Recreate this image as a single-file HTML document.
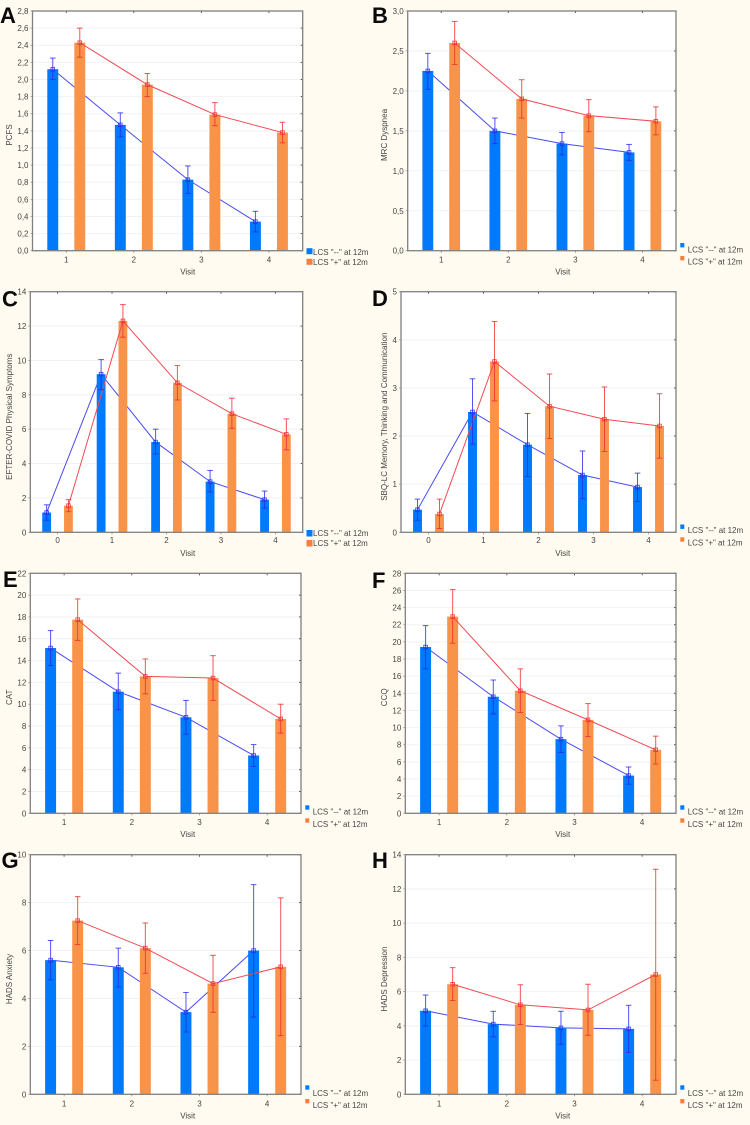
<!DOCTYPE html>
<html lang="en">
<head>
<meta charset="utf-8">
<title>LCS outcome panels</title>
<style>
html,body{margin:0;padding:0;background:#fffbf0;}
body{width:750px;height:1125px;overflow:hidden;}
svg{display:block;filter:blur(0.3px);}
text{font-family:"Liberation Sans",Arial,sans-serif;fill:#454545;}
</style>
</head>
<body>
<svg id="figure" width="750" height="1125" viewBox="0 0 750 1125" xmlns="http://www.w3.org/2000/svg"></svg>
<script>
// ---- Data ----
const visits4 = [1, 2, 3, 4];
const visits5 = [0, 1, 2, 3, 4];

const aTicks = ['0,0','0,2','0,4','0,6','0,8','1,0','1,2','1,4','1,6','1,8','2,0','2,2','2,4','2,6','2,8'];
const aBlueMean = [2.12, 1.47, 0.83, 0.34];
const aBlueUp = [2.25, 1.61, 0.99, 0.46];
const aBlueLo = [2.00, 1.33, 0.67, 0.22];
const aOrangeMean = [2.43, 1.94, 1.59, 1.38];
const aOrangeUp = [2.60, 2.07, 1.73, 1.50];
const aOrangeLo = [2.26, 1.80, 1.46, 1.26];

const bTicks = ['0,0','0,5','1,0','1,5','2,0','2,5','3,0'];
const bBlueMean = [2.25, 1.50, 1.34, 1.23];
const bBlueUp = [2.47, 1.66, 1.48, 1.33];
const bBlueLo = [2.02, 1.34, 1.20, 1.13];
const bOrangeMean = [2.60, 1.90, 1.69, 1.62];
const bOrangeUp = [2.87, 2.14, 1.89, 1.80];
const bOrangeLo = [2.33, 1.66, 1.49, 1.45];

const cTicks = ['0','2','4','6','8','10','12','14'];
const cBlueMean = [1.15, 9.2, 5.25, 2.95, 1.9];
const cBlueUp = [1.6, 10.05, 6.0, 3.6, 2.4];
const cBlueLo = [0.7, 8.3, 4.55, 2.35, 1.4];
const cOrangeMean = [1.55, 12.3, 8.7, 6.9, 5.7];
const cOrangeUp = [1.9, 13.25, 9.7, 7.8, 6.6];
const cOrangeLo = [1.2, 11.35, 7.7, 6.05, 4.8];

const dTicks = ['0','1','2','3','4','5'];
const dBlueMean = [0.47, 2.5, 1.82, 1.19, 0.94];
const dBlueUp = [0.69, 3.19, 2.47, 1.69, 1.23];
const dBlueLo = [0.25, 1.83, 1.16, 0.70, 0.64];
const dOrangeMean = [0.38, 3.55, 2.62, 2.35, 2.21];
const dOrangeUp = [0.69, 4.38, 3.29, 3.02, 2.88];
const dOrangeLo = [0.08, 2.73, 1.95, 1.68, 1.54];

const eTicks = ['0','2','4','6','8','10','12','14','16','18','20','22'];
const eBlueMean = [15.15, 11.15, 8.8, 5.3];
const eBlueUp = [16.75, 12.85, 10.35, 6.3];
const eBlueLo = [13.55, 9.5, 7.25, 4.3];
const eOrangeMean = [17.75, 12.55, 12.4, 8.65];
const eOrangeUp = [19.65, 14.15, 14.45, 10.0];
const eOrangeLo = [15.85, 10.95, 10.35, 7.35];

const fTicks = ['0','2','4','6','8','10','12','14','16','18','20','22','24','26','28'];
const fBlueMean = [19.4, 13.6, 8.65, 4.4];
const fBlueUp = [21.9, 15.55, 10.2, 5.4];
const fBlueLo = [16.85, 11.6, 7.1, 3.4];
const fOrangeMean = [22.95, 14.3, 10.9, 7.4];
const fOrangeUp = [26.1, 16.85, 12.8, 9.0];
const fOrangeLo = [19.85, 11.75, 8.95, 5.75];

const gTicks = ['0','2','4','6','8','10'];
const gBlueMean = [5.6, 5.3, 3.43, 6.0];
const gBlueUp = [6.42, 6.1, 4.25, 8.75];
const gBlueLo = [4.78, 4.48, 2.6, 3.22];
const gOrangeMean = [7.25, 6.1, 4.62, 5.32];
const gOrangeUp = [8.25, 7.15, 5.8, 8.2];
const gOrangeLo = [6.25, 5.05, 3.42, 2.45];

const hTicks = ['0','2','4','6','8','10','12','14'];
const hBlueMean = [4.88, 4.1, 3.88, 3.82];
const hBlueUp = [5.8, 4.85, 4.85, 5.2];
const hBlueLo = [3.98, 3.35, 2.92, 2.45];
const hOrangeMean = [6.43, 5.23, 4.93, 7.0];
const hOrangeUp = [7.4, 6.4, 6.43, 13.15];
const hOrangeLo = [5.48, 4.08, 3.45, 0.82];

const seriesNames = ['LCS "--" at 12m', 'LCS "+" at 12m'];

// ---- Panel wiring and layout ----
const panels = [
 {id:'a',letter:'A',title:'PCFS',cats:visits4,ticks:aTicks,bm:aBlueMean,bu:aBlueUp,bl:aBlueLo,om:aOrangeMean,ou:aOrangeUp,ol:aOrangeLo,
  box:[32.5,302.7,11,250.7],lx:0,ly:23,tx:9.3,ty:135,vx:187.7,vy:274.5,xl:262.3,leg:{sx:306.5,sw:6,s1:248.2,s2:258.8,sh:6,tx:313,t1:254.8,t2:264.8}},
 {id:'b',letter:'B',title:'MRC Dyspnea',cats:visits4,ticks:bTicks,bm:bBlueMean,bu:bBlueUp,bl:bBlueLo,om:bOrangeMean,ou:bOrangeUp,ol:bOrangeLo,
  box:[407.7,676,11,250.7],lx:372,ly:23,tx:384.3,ty:135,vx:562.7,vy:274.5,xl:262.3,leg:{sx:680.3,sw:4,s1:243,s2:256,sh:4.4,tx:687.7,t1:252.3,t2:264.6}},
 {id:'c',letter:'C',title:'EFTER-COVID Physical Symptoms',cats:visits5,ticks:cTicks,bm:cBlueMean,bu:cBlueUp,bl:cBlueLo,om:cOrangeMean,ou:cOrangeUp,ol:cOrangeLo,
  box:[30.3,302.7,291.7,532.3],lx:2,ly:306.5,tx:9.3,ty:416.7,vx:187.7,vy:556,xl:543,leg:{sx:306.5,sw:6,s1:530,s2:540,sh:6.5,tx:313,t1:535.9,t2:545.9}},
 {id:'d',letter:'D',title:'SBQ-LC Memory, Thinking and Communication',cats:visits5,ticks:dTicks,bm:dBlueMean,bu:dBlueUp,bl:dBlueLo,om:dOrangeMean,ou:dOrangeUp,ol:dOrangeLo,
  box:[401,676,291.7,532.3],lx:372,ly:306,tx:384.3,ty:416.7,vx:562.7,vy:556,xl:543,leg:{sx:680.3,sw:4,s1:524.5,s2:537.3,sh:4.4,tx:687.7,t1:533.2,t2:545.6}},
 {id:'e',letter:'E',title:'CAT',cats:visits4,ticks:eTicks,bm:eBlueMean,bu:eBlueUp,bl:eBlueLo,om:eOrangeMean,ou:eOrangeUp,ol:eOrangeLo,
  box:[30.3,301,573.3,813.3],lx:3,ly:587,tx:9.3,ty:697.3,vx:187.7,vy:837,xl:825,leg:{sx:305.3,sw:4,s1:805.3,s2:818.3,sh:4.4,tx:312.7,t1:814.6,t2:826.9}},
 {id:'f',letter:'F',title:'CCQ',cats:visits4,ticks:fTicks,bm:fBlueMean,bu:fBlueUp,bl:fBlueLo,om:fOrangeMean,ou:fOrangeUp,ol:fOrangeLo,
  box:[405.3,676,573.3,813.3],lx:372,ly:588,tx:384.3,ty:697.3,vx:562.7,vy:837,xl:825,leg:{sx:680.3,sw:4,s1:805.3,s2:818.3,sh:4.4,tx:687.7,t1:814.6,t2:826.9}},
 {id:'g',letter:'G',title:'HADS Anxiety',cats:visits4,ticks:gTicks,bm:gBlueMean,bu:gBlueUp,bl:gBlueLo,om:gOrangeMean,ou:gOrangeUp,ol:gOrangeLo,
  box:[30.3,301,854.7,1094.3],lx:1.5,ly:868,tx:9.3,ty:979,vx:187.7,vy:1118.5,xl:1106.3,leg:{sx:305.3,sw:4,s1:1085.3,s2:1099,sh:4.4,tx:312.7,t1:1096.2,t2:1108.2}},
 {id:'h',letter:'H',title:'HADS Depression',cats:visits4,ticks:hTicks,bm:hBlueMean,bu:hBlueUp,bl:hBlueLo,om:hOrangeMean,ou:hOrangeUp,ol:hOrangeLo,
  box:[405.3,676,854.7,1094.3],lx:372,ly:868,tx:384.3,ty:979,vx:562.7,vy:1118.5,xl:1106.3,leg:{sx:680.3,sw:4,s1:1085.3,s2:1099,sh:4.4,tx:687.7,t1:1096.2,t2:1108.2}}
];

const NS = 'http://www.w3.org/2000/svg';
const root = document.getElementById('figure');
function make(tag, parent, props, txt) {
  const n = document.createElementNS(NS, tag);
  for (const k in props) n.setAttribute(k, props[k]);
  if (txt !== undefined) n.textContent = txt;
  parent.appendChild(n);
  return n;
}
const BLUE_BAR = '#0079fb', ORANGE_BAR = '#f8944a';
const BLUE_LINE = '#4a4af0', RED_LINE = '#f04a54';

function drawLine(g, xs, ys, color) {
  return make('polyline', g, {points: xs.map((x, i) => x + ',' + ys[i]).join(' '), fill: 'none', stroke: color, 'stroke-width': 1});
}

panels.forEach(function (p) {
  const [L, R, T, B] = p.box;
  const g = make('g', root, {});
  
  

  const tickVals = p.ticks.map(t => parseFloat(t.replace(',', '.')));
  const yMin = tickVals[0], yMax = tickVals[tickVals.length - 1];
  const yScale = v => B - (v - yMin) / (yMax - yMin) * (B - T);
  const band = (R - L) / p.cats.length;
  const xCenter = i => L + band * (i + 0.5);
  const xBlue = i => xCenter(i) - band * 0.2;
  const xOrange = i => xCenter(i) + band * 0.2;
  const barW = band * 0.162;

  const plotBg = make('rect', g, {x: L, y: T, width: R - L, height: B - T, fill: '#ffffff'});
  
  

  // grid + y ticks + labels
  p.ticks.forEach(function (label, i) {
    const y = yScale(tickVals[i]);
    if (i > 0 && i < p.ticks.length - 1) {
      const grid = make('line', g, {x1: L, x2: R, y1: y, y2: y, stroke: '#f2f2f2', 'stroke-width': 1});
      
      
    }
    const tr = make('line', g, {x1: R - 2, x2: R, y1: y, y2: y, stroke: '#555', 'stroke-width': 1});
    
    
    const tl = make('line', g, {x1: L - 2, x2: L, y1: y, y2: y, stroke: '#999', 'stroke-width': 0.8});
    
    
    const lab = make('text', g, {x: L - 4, y: y + 3, 'text-anchor': 'end', 'font-size': 8}, label);
    
    
  });

  // x ticks + labels
  p.cats.forEach(function (c, i) {
    const x = xCenter(i);
    const tb = make('line', g, {x1: x, x2: x, y1: B, y2: B + 2, stroke: '#888', 'stroke-width': 0.8});
    
    
    const tt = make('line', g, {x1: x, x2: x, y1: T, y2: T + 2, stroke: '#555', 'stroke-width': 1});
    
    
    const lab = make('text', g, {x: x, y: p.xl, 'text-anchor': 'middle', 'font-size': 8}, String(c));
    
    
  });

  // blue connecting line sits behind the bars
  const bx = p.cats.map((c, i) => xBlue(i));
  const ox = p.cats.map((c, i) => xOrange(i));
  const blueLine = drawLine(g, bx, p.bm.map(yScale), BLUE_LINE);
  
  

  p.bm.forEach(function (v, i) {
    const bar = make('rect', g, {x: bx[i] - barW / 2, y: yScale(v), width: barW, height: B - yScale(v), fill: BLUE_BAR});
    
    
  });
  p.om.forEach(function (v, i) {
    const bar = make('rect', g, {x: ox[i] - barW / 2, y: yScale(v), width: barW, height: B - yScale(v), fill: ORANGE_BAR});
    
    
  });

  const redLine = drawLine(g, ox, p.om.map(yScale), RED_LINE);
  
  

  // whiskers and markers
  function whiskers(xs, mean, up, lo, color, prefix) {
    mean.forEach(function (v, i) {
      const x = xs[i];
      const eg = make('g', g, {stroke: color, 'stroke-width': 1, fill: 'none', 'stroke-opacity': 0.8});
      
      
      make('line', eg, {x1: x, x2: x, y1: yScale(up[i]), y2: yScale(lo[i])});
      make('line', eg, {x1: x - 2.8, x2: x + 2.8, y1: yScale(up[i]), y2: yScale(up[i])});
      make('line', eg, {x1: x - 2.8, x2: x + 2.8, y1: yScale(lo[i]), y2: yScale(lo[i])});
      const m = make('rect', g, {x: x - 1.8, y: yScale(v) - 1.8, width: 3.6, height: 3.6, fill: 'none', stroke: color, 'stroke-width': 0.9, 'stroke-opacity': 0.85});
      
      
    });
  }
  whiskers(bx, p.bm, p.bu, p.bl, '#2a2af0', 'negative');
  whiskers(ox, p.om, p.ou, p.ol, '#f02a30', 'positive');

  const frame = make('rect', g, {x: L, y: T, width: R - L, height: B - T, fill: 'none', stroke: '#808080', 'stroke-width': 1.3});
  
  

  // titles
  const letter = make('text', g, {x: p.lx, y: p.ly, 'font-size': 22, 'font-weight': 'bold', style: 'fill:#0a0a0a'}, p.letter);
  
  

  const yTitle = make('text', g, {x: 0, y: 0, 'font-size': 8, 'text-anchor': 'middle', transform: 'translate(' + (p.tx + 2.8) + ' ' + p.ty + ') rotate(-90)'}, p.title);
  
  

  const xTitle = make('text', g, {x: p.vx, y: p.vy, 'font-size': 8, 'text-anchor': 'middle'}, 'Visit');
  
  

  // legend
  const lg = p.leg;
  const legend1 = make('rect', g, {x: lg.sx, y: lg.s1, width: lg.sw, height: lg.sh, fill: BLUE_BAR});
  
  
  const legend2 = make('rect', g, {x: lg.sx, y: lg.s2, width: lg.sw, height: lg.sh, fill: '#f5803e'});
  
  
  const legendT1 = make('text', g, {x: lg.tx, y: lg.t1, 'font-size': 8}, seriesNames[0]);
  
  
  const legendT2 = make('text', g, {x: lg.tx, y: lg.t2, 'font-size': 8}, seriesNames[1]);
  
  
});
</script>
</body>
</html>
